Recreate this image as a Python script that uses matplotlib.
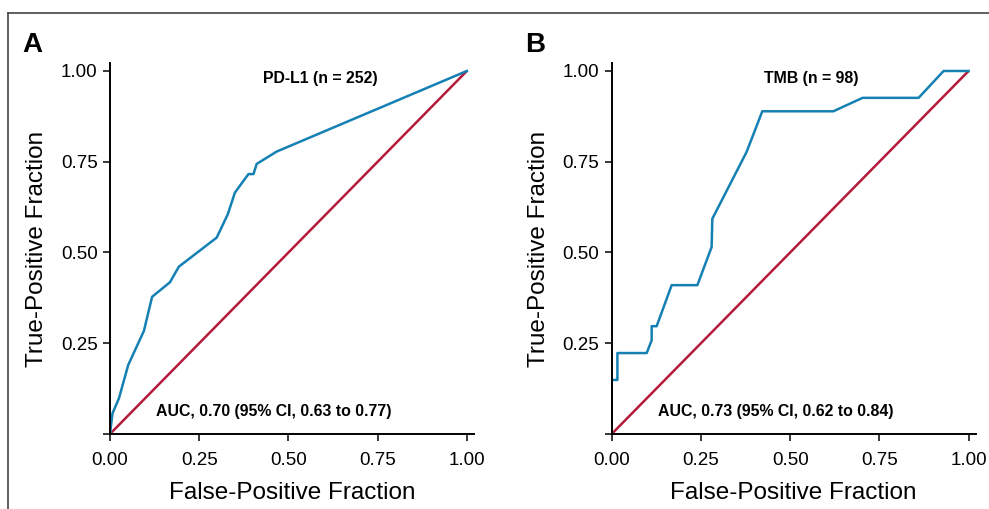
import matplotlib
matplotlib.use("Agg")
import matplotlib.pyplot as plt
from matplotlib.lines import Line2D

# ROC points
pdl1_fpr = [0.0, 0.007, 0.025, 0.051, 0.095, 0.118, 0.168, 0.193, 0.299, 0.330,
            0.350, 0.388, 0.402, 0.411, 0.467, 1.0]
pdl1_tpr = [0.0, 0.057, 0.098, 0.190, 0.284, 0.378, 0.418, 0.461, 0.541, 0.605,
            0.665, 0.716, 0.716, 0.744, 0.778, 1.0]

tmb_fpr = [0.0, 0.0, 0.016, 0.016, 0.098, 0.112, 0.112, 0.126, 0.168, 0.240,
           0.280, 0.282, 0.378, 0.422, 0.621, 0.703, 0.860, 0.930, 1.0]
tmb_tpr = [0.0, 0.149, 0.149, 0.223, 0.223, 0.258, 0.297, 0.297, 0.410, 0.410,
           0.515, 0.593, 0.777, 0.889, 0.889, 0.926, 0.926, 1.0, 1.0]

panels = ["A", "B"]
titles = ["PD-L1 (n = 252)", "TMB (n = 98)"]
aucs = ["AUC, 0.70 (95% CI, 0.63 to 0.77)", "AUC, 0.73 (95% CI, 0.62 to 0.84)"]
ticks = [0.0, 0.25, 0.5, 0.75, 1.0]
xticklabels = ["0.00", "0.25", "0.50", "0.75", "1.00"]
yticklabels = ["", "0.25", "0.50", "0.75", "1.00"]

BLUE = "#1580b3"
RED = "#b51a3b"

plt.rcParams["font.family"] = ["Liberation Sans", "DejaVu Sans"]

fig = plt.figure(figsize=(9.89, 5.09), dpi=100)
W, H = 989, 509

lefts = [110, 611.7]
curves = [(pdl1_fpr, pdl1_tpr), (tmb_fpr, tmb_tpr)]
title_x = [0.588, 0.56]

for i in range(2):
    ax = fig.add_axes([lefts[i] / W, 1 - 434 / H, 364 / W, 371 / H])
    fpr, tpr = curves[i]
    ax.plot([0, 1], [0, 1], color=RED, lw=1.8, solid_capstyle="butt")
    ax.plot(fpr, tpr, color=BLUE, lw=1.8)
    ax.set_xlim(0, 1.02)
    ax.set_ylim(0, 1.022)
    ax.set_xticks(ticks)
    ax.set_xticklabels(xticklabels)
    ax.set_yticks(ticks)
    ax.set_yticklabels(yticklabels)
    for s in ["top", "right"]:
        ax.spines[s].set_visible(False)
    for s in ["left", "bottom"]:
        ax.spines[s].set_linewidth(1.4)
    ax.tick_params(direction="out", length=5, width=1.1, labelsize=13.5)
    ax.tick_params(axis="x", pad=8)
    ax.tick_params(axis="y", pad=4)

    ax.set_xlabel("False-Positive Fraction", fontsize=17.5)
    ax.xaxis.set_label_coords(0.5, -0.16)
    ax.xaxis.label.set_verticalalignment("center")
    ax.set_ylabel("True-Positive Fraction", fontsize=17.5)
    ax.yaxis.set_label_coords(-0.2, 0.5)
    ax.yaxis.label.set_verticalalignment("center")

    ax.text(title_x[i], 0.98, titles[i], ha="center", va="center",
            fontsize=11.4, fontweight="bold")
    ax.text(0.13, 0.061, aucs[i], ha="left", va="center",
            fontsize=11.4, fontweight="bold")

    fig.text((22 + i * 503) / W, 1 - 52 / H, panels[i], fontsize=20,
             fontweight="bold", va="baseline", ha="left")

# frame lines around the figure
fig.add_artist(Line2D([8 / W, 1], [1 - 13 / H, 1 - 13 / H], color="#444444",
                      lw=1.2, transform=fig.transFigure))
fig.add_artist(Line2D([8 / W, 8 / W], [0, 1 - 13 / H], color="#444444",
                      lw=1.2, transform=fig.transFigure))

fig.savefig("out.png", dpi=100)
